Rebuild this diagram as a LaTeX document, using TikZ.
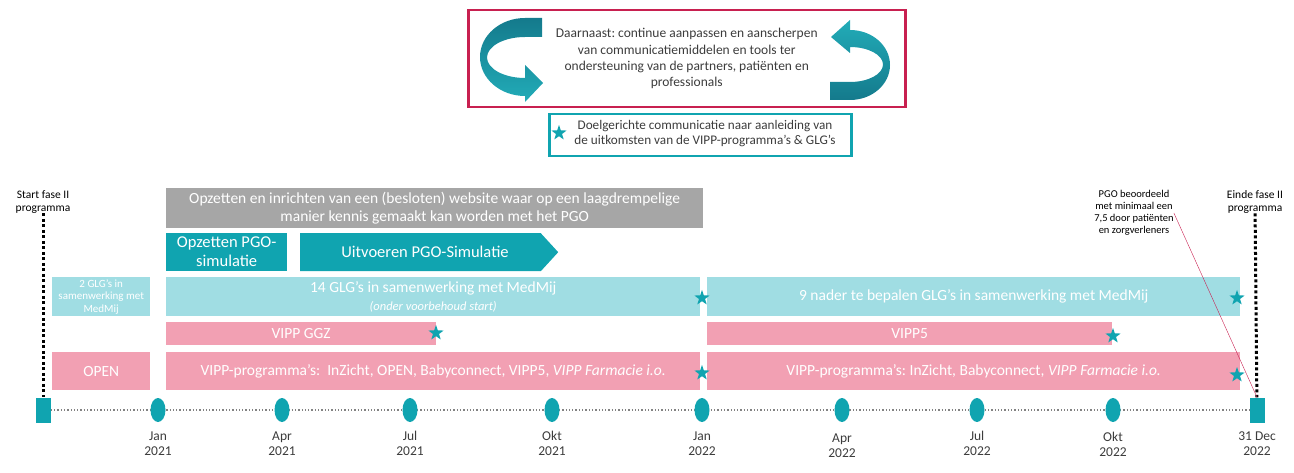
\documentclass[tikz,border=0pt]{standalone}
\usepackage{fontspec}
\setmainfont{Carlito}
\frenchspacing
\usetikzlibrary{positioning,arrows,shapes.geometric,shapes.symbols,backgrounds}
\definecolor{pgogrey}{RGB}{166,166,166}
\definecolor{pgoteal}{RGB}{16,164,176}
\definecolor{glgblue}{RGB}{160,221,227}
\definecolor{vipppink}{RGB}{242,160,179}
\definecolor{kaderrood}{RGB}{200,32,80}
\definecolor{tekstgrijs}{RGB}{60,60,60}
\definecolor{lijngrijs}{RGB}{130,130,130}
\definecolor{pijldonker}{RGB}{20,122,140}
\definecolor{pijllicht}{RGB}{34,172,184}
\tikzset{
  >=stealth',
  barbox/.style={
    rectangle,
    anchor=north west,
    inner sep=0pt,
    text=white,
    align=center,
    font=\fontsize{15.5}{18}\selectfont},
  greybar/.style={barbox, fill=pgogrey},
  tealbar/.style={barbox, fill=pgoteal},
  glgbar/.style={barbox, fill=glgblue},
  vippbar/.style={barbox, fill=vipppink},
  mijlpaal/.style={ellipse, fill=pgoteal, minimum width=15pt, minimum height=24pt, inner sep=0pt},
  eindpunt/.style={rectangle, fill=pgoteal, minimum width=15pt, minimum height=25pt, inner sep=0pt},
  ster/.style={star, star points=5, star point ratio=2.5, fill=pgoteal, minimum size=16pt, inner sep=0pt},
  maand/.style={font=\fontsize{13.5}{15}\selectfont, text=tekstgrijs, align=center, inner sep=0pt},
  fase/.style={font=\fontsize{11.5}{12.5}\selectfont, text=black, align=center, inner sep=0pt},
  fasestip/.style={draw, line width=3pt, dash pattern=on 3pt off 2.5pt},
  tijdlijn/.style={draw=lijngrijs, line width=1.3pt, dotted},
  rodelijn/.style={draw=kaderrood, thin},
}
\begin{document}
\begin{tikzpicture}[x=1pt, y=-1pt]
  \useasboundingbox (0,0) rectangle (1294,473);
  % kader bovenaan
  \node[draw=kaderrood, line width=2.5pt, anchor=north west, minimum width=437pt, minimum height=97pt,
    align=center, text=tekstgrijs, font=\fontsize{13.5}{16.3}\selectfont] (daarnaast) at (467,9)
    {Daarnaast: continue aanpassen en aanscherpen\\van communicatiemiddelen en tools ter\\ondersteuning van de partners, patiënten en\\professionals};
  \shade[top color=pijldonker, bottom color=pijllicht]
    (542,18) -- (525,18) arc[start angle=90, end angle=270, x radius=45pt, y radius=39pt]
    -- (525,102) -- (543,83) -- (525,65) -- (525,78)
    arc[start angle=270, end angle=90, x radius=38pt, y radius=20.5pt] -- (542,37) -- cycle;
  \shade[top color=pijllicht, bottom color=pijldonker]
    (830,100) -- (850,100) arc[start angle=-90, end angle=90, x radius=40pt, y radius=35pt]
    -- (850,20) -- (831,37) -- (850,53) -- (850,47)
    arc[start angle=90, end angle=-90, x radius=33pt, y radius=17.5pt] -- (830,82) -- cycle;
  % legenda
  \node[draw=pgoteal, line width=2.5pt, anchor=north west, minimum width=302pt, minimum height=42pt] (legenda) at (548,113) {};
  \node[ster] (legster) at (559,133) {};
  \node[align=center, text=tekstgrijs, font=\fontsize{13.2}{15}\selectfont] (doel) at (705,134)
    {Doelgerichte communicatie naar aanleiding van\\de uitkomsten van de VIPP-programma’s \& GLG’s};
  % balken
  \node[greybar, minimum width=537pt, minimum height=40pt] (website) at (166,188)
    {Opzetten en inrichten van een (besloten) website waar op een laagdrempelige\\manier kennis gemaakt kan worden met het PGO};
  \node[tealbar, minimum width=121pt, minimum height=38pt, font=\fontsize{16.5}{19}\selectfont] (opzetten) at (166,233)
    {Opzetten PGO-\\simulatie};
  \node[tealbar, signal, signal to=east, signal pointer angle=95, minimum width=258pt, minimum height=38pt] (uitvoeren) at (300,233) {};
  \node[text=white, inner sep=0pt, font=\fontsize{16.5}{19}\selectfont] (uitvoerentekst) at (425,252) {Uitvoeren PGO-Simulatie};
  \node[glgbar, minimum width=98pt, minimum height=39pt, font=\fontsize{11}{12.5}\selectfont] (glgtwee) at (52,277)
    {2 GLG’s in\\samenwerking met\\MedMij};
  \node[glgbar, minimum width=534pt, minimum height=39pt] (glgveertien) at (166,277)
    {14 GLG’s in samenwerking met MedMij\\{\itshape\fontsize{12.5}{15}\selectfont (onder voorbehoud start)}};
  \node[glgbar, minimum width=533pt, minimum height=39pt] (glgnegen) at (707,277)
    {9 nader te bepalen GLG’s in samenwerking met MedMij};
  \node[vippbar, minimum width=270pt, minimum height=23pt] (vippggz) at (166,322) {VIPP GGZ};
  \node[vippbar, minimum width=405pt, minimum height=23pt] (vippvijf) at (707,322) {VIPP5};
  \node[vippbar, minimum width=98pt, minimum height=38pt] (open) at (52,352) {OPEN};
  \node[vippbar, minimum width=534pt, minimum height=38pt] (vippeen) at (166,352)
    {VIPP-programma’s:\ \ InZicht, OPEN, Babyconnect, VIPP5, \textit{VIPP Farmacie i.o.}};
  \node[vippbar, minimum width=533pt, minimum height=38pt] (vipptwee) at (707,352)
    {VIPP-programma’s: InZicht, Babyconnect, \textit{VIPP Farmacie i.o.}};
  % sterren
  \node[ster] (ster1) at (702,298) {};
  \node[ster] (ster2) at (1237,298) {};
  \node[ster] (ster3) at (436,333) {};
  \node[ster] (ster4) at (1113,336) {};
  \node[ster] (ster5) at (702,373) {};
  \node[ster] (ster6) at (1237,375) {};
  % tijdlijn
  \node[eindpunt] (start) at (43,410) {};
  \node[eindpunt] (einde) at (1257,410) {};
  \node[mijlpaal] (m1) at (158,410) {};
  \node[mijlpaal] (m2) at (282,410) {};
  \node[mijlpaal] (m3) at (410,410) {};
  \node[mijlpaal] (m4) at (552,410) {};
  \node[mijlpaal] (m5) at (702,410) {};
  \node[mijlpaal] (m6) at (842,410) {};
  \node[mijlpaal] (m7) at (977,410) {};
  \node[mijlpaal] (m8) at (1113,410) {};
  \node[maand, below=9pt of m1] (jan21) {Jan\\2021};
  \node[maand, below=9pt of m2] (apr21) {Apr\\2021};
  \node[maand, below=9pt of m3] (jul21) {Jul\\2021};
  \node[maand, below=9pt of m4] (okt21) {Okt\\2021};
  \node[maand, below=9pt of m5] (jan22) {Jan\\2022};
  \node[maand, below=11pt of m6] (apr22) {Apr\\2022};
  \node[maand, below=9pt of m7] (jul22) {Jul\\2022};
  \node[maand, below=10pt of m8] (okt22) {Okt\\2022};
  \node[maand, below=9pt of einde] (dec22) {31 Dec\\2022};
  \begin{scope}[on background layer]
    \draw[tijdlijn] (start) -- (einde);
  \end{scope}
  \node[fase] (startfase) at (43,202) {Start fase II\\programma};
  \node[fase] (eindefase) at (1255,202) {Einde fase II\\programma};
  \draw[fasestip] (startfase) -- (start);
  \draw[fasestip] (eindefase) -- (einde);
  % beoordeling PGO
  \node[fase, font=\fontsize{10.5}{12}\selectfont] (beoordeeld) at (1134,213)
    {PGO beoordeeld\\met minimaal een\\7,5 door patiënten\\en zorgverleners};
  \draw[rodelijn] (beoordeeld.east) -- (einde.north);
\end{tikzpicture}
\end{document}
